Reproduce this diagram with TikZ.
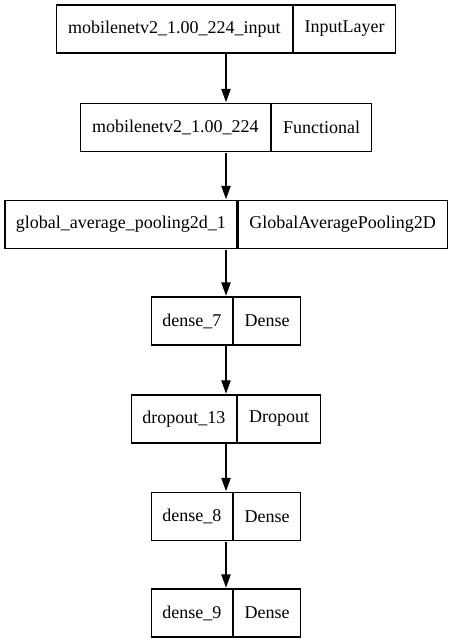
\documentclass[tikz,border=0pt]{standalone}
\usepackage{fontspec}
\setmainfont{Liberation Serif}
\usetikzlibrary{positioning,fit,arrows.meta}

\begin{document}
\begin{tikzpicture}[x=0.75pt,y=-0.75pt,line width=1pt,>={Triangle[length=10pt,width=7pt]},
  part node/.style={draw,rectangle,minimum height=36pt,inner sep=0pt,font=\fontsize{13.5}{16}\selectfont},
  layer node/.style={inner sep=0pt}]
            \useasboundingbox (0,0) rectangle (452,644);

            \node[part node,anchor=east,minimum width=177pt] (1a) at (293,29) {mobilenetv2\_1.00\_224\_input};
            \node[part node,anchor=west,minimum width=76.5pt] (1b) at (293,29) {InputLayer};
            \node[layer node,fit=(1a)(1b)] (1) {};

            \node[part node,anchor=east,minimum width=142.5pt] (2a) at (271,127.5) {mobilenetv2\_1.00\_224};
            \node[part node,anchor=west,minimum width=75pt] (2b) at (271,127.5) {Functional};
            \node[layer node,fit=(2a)(2b)] (2) {};

            \node[part node,anchor=east,minimum width=174pt] (3a) at (237.5,224.5) {global\_average\_pooling2d\_1};
            \node[part node,anchor=west,minimum width=156.75pt] (3b) at (237.5,224.5) {GlobalAveragePooling2D};
            \node[layer node,fit=(3a)(3b)] (3) {};

            \node[part node,anchor=east,minimum width=60.75pt] (4a) at (233,321) {dense\_7};
            \node[part node,anchor=west,minimum width=50.25pt] (4b) at (233,321) {Dense};
            \node[layer node,fit=(4a)(4b)] (4) {};

            \node[part node,anchor=east,minimum width=78.75pt] (5a) at (237,419) {dropout\_13};
            \node[part node,anchor=west,minimum width=62.25pt] (5b) at (237,419) {Dropout};
            \node[layer node,fit=(5a)(5b)] (5) {};

            \node[part node,anchor=east,minimum width=60.75pt] (6a) at (233,516.5) {dense\_8};
            \node[part node,anchor=west,minimum width=50.25pt] (6b) at (233,516.5) {Dense};
            \node[layer node,fit=(6a)(6b)] (6) {};

            \node[part node,anchor=east,minimum width=60.75pt] (7a) at (233,613) {dense\_9};
            \node[part node,anchor=west,minimum width=50.25pt] (7b) at (233,613) {Dense};
            \node[layer node,fit=(7a)(7b)] (7) {};

          \path[->]
            (1.south) edge (2.north)
            (2.south) edge (3.north)
            (3.south) edge (4.north)
            (4.south) edge (5.north)
            (5.south) edge (6.north)
            (6.south) edge (7.north)
            ;
        \end{tikzpicture}
\end{document}
